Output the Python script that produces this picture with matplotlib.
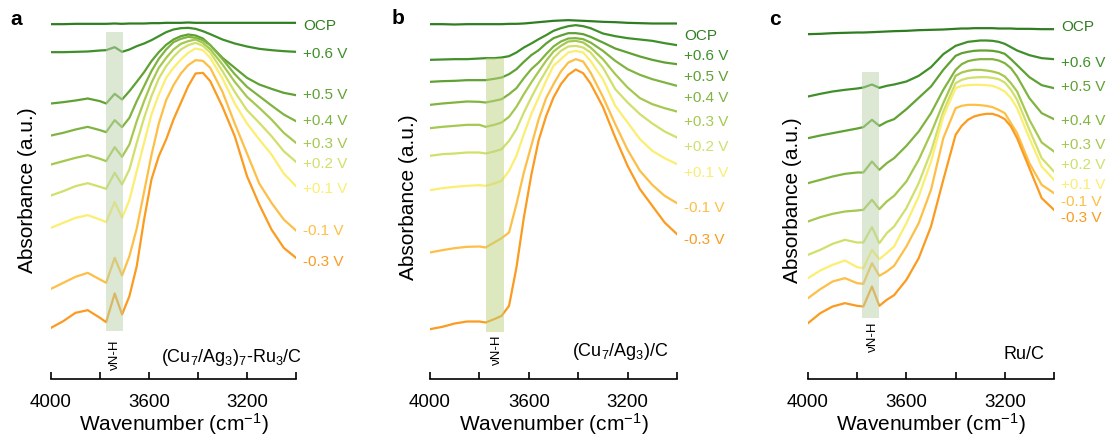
import matplotlib
matplotlib.use("Agg")
import matplotlib.pyplot as plt

plt.rcParams['font.family'] = ['Liberation Sans', 'DejaVu Sans']
plt.rcParams['mathtext.default'] = 'regular'

# potentials, top to bottom
labels = ['OCP', '+0.6 V', '+0.5 V', '+0.4 V', '+0.3 V', '+0.2 V', '+0.1 V', '-0.1 V', '-0.3 V']
colors = ['#2f7d21', '#3f8f2a', '#5fa133', '#80b441', '#a5c950', '#d0e06b', '#fbee70', '#fdbf46', '#fb9b1f']

# wavenumber grids (cm-1)
wn_ab = [4000, 3950, 3900, 3850, 3800, 3775, 3740, 3710, 3680, 3650, 3620, 3590, 3560, 3530,
         3500, 3470, 3440, 3410, 3380, 3350, 3300, 3250, 3200, 3150, 3100, 3050, 3000]
wn_c = [4000, 3950, 3900, 3850, 3800, 3775, 3740, 3710, 3680, 3650, 3600, 3550, 3500, 3450,
        3400, 3375, 3350, 3325, 3300, 3275, 3250, 3225, 3200, 3175, 3150, 3100, 3050, 3000]

# (a) (Cu7/Ag3)7-Ru3/C, stacked absorbance (a.u.)
a_ocp = [1063, 1063, 1064, 1064, 1064, 1064, 1065, 1064, 1065, 1065, 1065, 1066, 1066, 1067,
         1067, 1067, 1068, 1067, 1067, 1067, 1067, 1067, 1067, 1067, 1067, 1067, 1067]
a_p06 = [979, 979, 980, 981, 984, 985, 994, 980, 987, 997, 1005, 1015, 1027, 1039,
         1047, 1051, 1052, 1049, 1042, 1033, 1017, 1005, 996, 989, 985, 982, 980]
a_p05 = [825, 829, 834, 840, 832, 825, 854, 837, 862, 890, 919, 952, 979, 1001,
         1017, 1027, 1032, 1029, 1020, 1000, 962, 932, 902, 882, 869, 857, 850]
a_p04 = [729, 737, 747, 755, 745, 739, 775, 754, 782, 832, 877, 922, 959, 987,
         1009, 1019, 1025, 1022, 1015, 1000, 958, 913, 875, 847, 819, 792, 772]
a_p03 = [642, 652, 662, 670, 659, 652, 694, 665, 702, 772, 832, 887, 932, 962,
         987, 1004, 1012, 1017, 1007, 988, 942, 890, 845, 812, 777, 737, 707]
a_p02 = [549, 562, 577, 586, 575, 569, 617, 582, 627, 707, 782, 847, 900, 937,
         965, 987, 1000, 1007, 998, 978, 922, 860, 805, 767, 727, 682, 650]
a_p01 = [452, 467, 482, 490, 477, 469, 529, 482, 535, 622, 707, 792, 852, 902,
         932, 957, 977, 990, 985, 962, 900, 825, 765, 717, 672, 615, 577]
a_m01 = [269, 287, 305, 317, 297, 287, 362, 309, 367, 450, 560, 670, 765, 835,
         880, 915, 940, 955, 953, 932, 860, 765, 675, 585, 527, 477, 444]
a_m03 = [152, 172, 197, 205, 182, 169, 255, 192, 247, 337, 477, 597, 667, 717,
         777, 827, 877, 915, 917, 892, 815, 727, 607, 522, 447, 392, 362]

# (b) (Cu7/Ag3)/C
b_ocp = [1063, 1063, 1062, 1063, 1063, 1063, 1063, 1063, 1064, 1064, 1065, 1067, 1069, 1071,
         1073, 1074, 1075, 1074, 1073, 1072, 1070, 1069, 1067, 1066, 1065, 1065, 1065]
b_p06 = [956, 957, 958, 958, 960, 961, 961, 963, 967, 978, 993, 1005, 1018, 1030,
         1043, 1051, 1057, 1060, 1057, 1051, 1035, 1027, 1021, 1017, 1013, 1006, 1000]
b_p05 = [890, 892, 893, 895, 895, 895, 899, 903, 913, 928, 950, 970, 985, 1005,
         1021, 1029, 1036, 1036, 1033, 1025, 1008, 990, 978, 966, 956, 948, 943]
b_p04 = [821, 825, 828, 831, 830, 828, 833, 838, 853, 871, 901, 928, 948, 973,
         996, 1011, 1020, 1021, 1018, 1008, 983, 953, 928, 911, 898, 888, 878]
b_p03 = [751, 755, 758, 761, 761, 755, 761, 768, 785, 815, 853, 888, 921, 953,
         981, 998, 1011, 1013, 1008, 993, 958, 913, 873, 841, 823, 811, 801]
b_p02 = [668, 673, 675, 678, 678, 675, 681, 688, 713, 748, 798, 843, 885, 923,
         961, 983, 996, 998, 993, 978, 933, 868, 828, 793, 765, 741, 723]
b_p01 = [565, 571, 575, 578, 580, 578, 585, 593, 623, 668, 733, 793, 843, 893,
         938, 958, 978, 983, 978, 953, 898, 818, 768, 718, 683, 661, 643]
b_m01 = [378, 385, 391, 395, 396, 393, 408, 421, 438, 523, 618, 698, 778, 841,
         883, 921, 948, 958, 951, 918, 845, 763, 686, 623, 581, 548, 526]
b_m03 = [148, 155, 165, 171, 171, 168, 178, 188, 218, 333, 483, 610, 715, 787,
         843, 883, 911, 927, 916, 885, 815, 723, 638, 568, 518, 468, 433]

# (c) Ru/C
c_ocp = [1033, 1034, 1036, 1037, 1038, 1038, 1039, 1040, 1041, 1042, 1043, 1045, 1046, 1047,
         1049, 1050, 1050, 1051, 1051, 1051, 1051, 1050, 1050, 1050, 1049, 1049, 1048, 1048]
c_p06 = [846, 854, 861, 866, 870, 873, 882, 872, 878, 882, 891, 908, 934, 973,
         998, 1004, 1010, 1012, 1014, 1014, 1013, 1010, 1004, 994, 984, 970, 961, 958]
c_p05 = [721, 729, 736, 743, 750, 754, 776, 758, 770, 778, 808, 842, 876, 926,
         968, 976, 980, 983, 984, 984, 983, 980, 974, 958, 940, 904, 880, 871]
c_p04 = [586, 596, 606, 614, 618, 618, 651, 626, 646, 661, 698, 741, 796, 866,
         926, 943, 952, 956, 958, 958, 958, 954, 946, 931, 906, 841, 796, 778]
c_p03 = [471, 484, 494, 501, 504, 506, 536, 508, 531, 548, 591, 656, 736, 826,
         908, 918, 923, 926, 926, 924, 921, 916, 906, 886, 861, 776, 708, 681]
c_p02 = [371, 386, 404, 416, 408, 408, 454, 406, 436, 456, 511, 586, 681, 801,
         886, 896, 901, 903, 904, 904, 902, 898, 888, 866, 836, 746, 661, 621]
c_p01 = [301, 324, 341, 354, 334, 331, 386, 358, 376, 396, 466, 546, 651, 786,
         871, 878, 880, 881, 881, 880, 878, 871, 861, 841, 811, 721, 636, 596]
c_m01 = [241, 268, 291, 301, 286, 284, 346, 308, 321, 338, 396, 466, 566, 721,
         811, 818, 821, 821, 820, 818, 814, 806, 796, 766, 736, 646, 581, 556]
c_m03 = [166, 196, 216, 226, 218, 216, 276, 218, 236, 250, 296, 361, 456, 596,
         731, 758, 776, 786, 791, 794, 794, 788, 778, 756, 721, 631, 541, 506]

panels = [
    dict(letter='a', name='(Cu$_7$/Ag$_3$)$_7$-Ru$_3$/C', wn=wn_ab,
         curves=[a_ocp, a_p06, a_p05, a_p04, a_p03, a_p02, a_p01, a_m01, a_m03],
         lab_y=[1059, 975, 850, 772, 704, 645, 569, 444, 350],
         band=(3775, 3707, 142, 1039), band_col='#bbd3ab', nh=(3741, 70),
         name_xy=(2976, 62), left=51, width=245, ylab_x=-0.094, ylab_y=0.51,
         let_xy=(-0.143, 0.969)),
    dict(letter='b', name='(Cu$_7$/Ag$_3$)/C', wn=wn_ab,
         curves=[b_ocp, b_p06, b_p05, b_p04, b_p03, b_p02, b_p01, b_m01, b_m03],
         lab_y=[1028, 968, 905, 843, 771, 695, 616, 511, 415],
         band=(3775, 3702, 140, 961), band_col='#bfd37f', nh=(3730, 85),
         name_xy=(3032, 80), left=430, width=247, ylab_x=-0.089, ylab_y=0.49,
         let_xy=(-0.13, 0.974)),
    dict(letter='c', name='Ru/C', wn=wn_c,
         curves=[c_ocp, c_p06, c_p05, c_p04, c_p03, c_p02, c_p01, c_m01, c_m03],
         lab_y=[1055, 946, 875, 773, 700, 640, 580, 530, 483],
         band=(3780, 3712, 180, 920), band_col='#bbd3ab', nh=(3736, 124),
         name_xy=(3041, 71), left=808, width=246, ylab_x=-0.065, ylab_y=0.482,
         let_xy=(-0.134, 0.969)),
]

W, H = 1108, 440
fig = plt.figure(figsize=(W / 100, H / 100), dpi=100)

for p in panels:
    ax = fig.add_axes([p['left'] / W, 61.5 / H, p['width'] / W, 370 / H])
    for y, col in zip(p['curves'], colors):
        ax.plot(p['wn'], y, color=col, lw=1.6, solid_joinstyle='round')
    for lab, ly, col in zip(labels, p['lab_y'], colors):
        ax.text(2972, ly, lab, color=col, fontsize=11, ha='left', va='center', clip_on=False)
    x0, x1, y0, y1 = p['band']
    ax.fill_between([x0, x1], y0, y1, color=p['band_col'], alpha=0.5, lw=0, zorder=5)
    ax.text(p['nh'][0], p['nh'][1], 'νN-H', rotation=90, fontsize=9.5, ha='center', va='center')
    ax.text(p['name_xy'][0], p['name_xy'][1], p['name'], fontsize=13, ha='right', va='center')
    ax.text(p['ylab_x'], p['ylab_y'], 'Absorbance (a.u.)', transform=ax.transAxes,
            rotation=90, fontsize=15, ha='center', va='center')
    ax.text(p['let_xy'][0], p['let_xy'][1], p['letter'], transform=ax.transAxes,
            fontsize=15, fontweight='bold', ha='center', va='center')

    ax.set_xlim(4000, 3000)
    ax.set_ylim(0, 1110)
    ax.set_xticks([4000, 3600, 3200])
    ax.set_xticks([3800, 3400, 3000], minor=True)
    ax.tick_params(axis='x', which='both', direction='in', length=5, width=1.2,
                   labelsize=13.5, pad=11)
    ax.set_yticks([])
    for s in ['left', 'right', 'top']:
        ax.spines[s].set_visible(False)
    ax.spines['bottom'].set_linewidth(1.2)
    ax.set_xlabel('Wavenumber (cm$^{-1}$)', fontsize=15, labelpad=0)
    ax.patch.set_alpha(0)

fig.savefig('out.png', dpi=100)
